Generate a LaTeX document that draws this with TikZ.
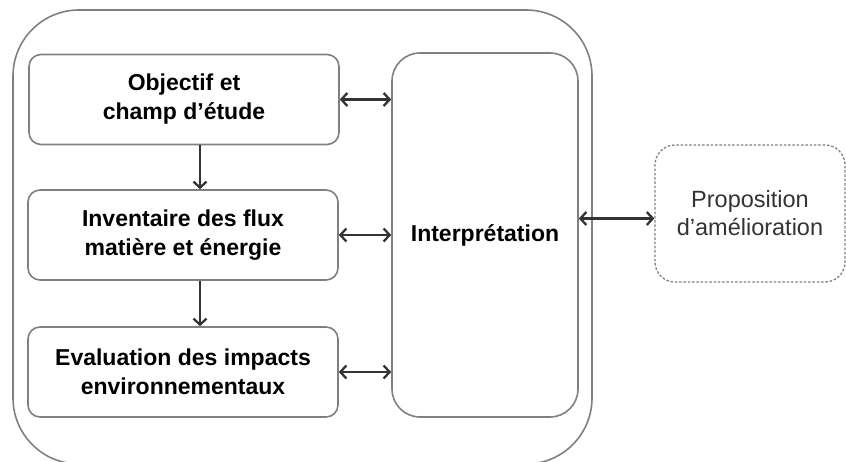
\documentclass[tikz,border=0pt]{standalone}
\usepackage{fontspec}
\setmainfont{Liberation Sans}
\usepackage{tikz}
\usetikzlibrary{arrows.meta}
\usepackage{xcolor}
\definecolor{boxgray}{HTML}{808080}
\definecolor{arrgray}{HTML}{333333}

\begin{document}
\begin{tikzpicture}[x = 1pt, y = 1pt]
				    \tikzstyle{stage}=[draw=boxgray,line width = 1.6pt,rounded corners = 12pt,minimum width = 310pt,minimum height = 90pt,align = center,font = \fontsize{23}{29}\selectfont\bfseries,inner sep = 0pt]
				    \tikzstyle{link}=[draw=arrgray,line width = 2.3pt,{Straight Barb[length=6pt,width=13pt]}-{Straight Barb[length=6pt,width=13pt]}]
				    \tikzstyle{next}=[draw=arrgray,line width = 2.3pt,-{Straight Barb[length=6pt,width=13pt]}]
				    \useasboundingbox (0,0) rectangle (846,461);
				    \draw[boxgray,line width = 1.6pt,rounded corners = 66pt] (13,-3) rectangle (592,451);
				    \node[stage] (obj) at (184,361.5) {Objectif et\\champ d’étude};
				    \node[stage] (inv) at (183,226) {Inventaire des flux\\matière et énergie};
				    \node[stage] (eval) at (183,89) {Evaluation des impacts\\environnementaux};
				    \node[stage,rounded corners = 28pt,minimum width = 186pt,minimum height = 364pt] (interp) at (485,226) {Interprétation};
				    \node[draw=boxgray,line width = 1.3pt,dash pattern = on 2.5pt off 1.8pt,rounded corners = 20pt,minimum width = 190pt,minimum height = 137pt,align = center,text = black!80,font = \fontsize{23.5}{28}\selectfont] (prop) at (750,247.5) {Proposition\\d’amélioration};
				    \draw[next] ([xshift = 16pt]obj.south) -- ([xshift = 17pt]inv.north);
				    \draw[next] ([xshift = 17pt]inv.south) -- ([xshift = 17pt]eval.north);
				    \draw[link] (obj.east) -- (interp.west |- obj.east);
				    \draw[link] (inv.east) -- (interp.west |- inv.east);
				    \draw[link] (eval.east) -- (interp.west |- eval.east);
				    \draw[link] ([yshift = -5pt]interp.east |- prop.west) -- ([yshift = -5pt]prop.west);
				\end{tikzpicture}
\end{document}
